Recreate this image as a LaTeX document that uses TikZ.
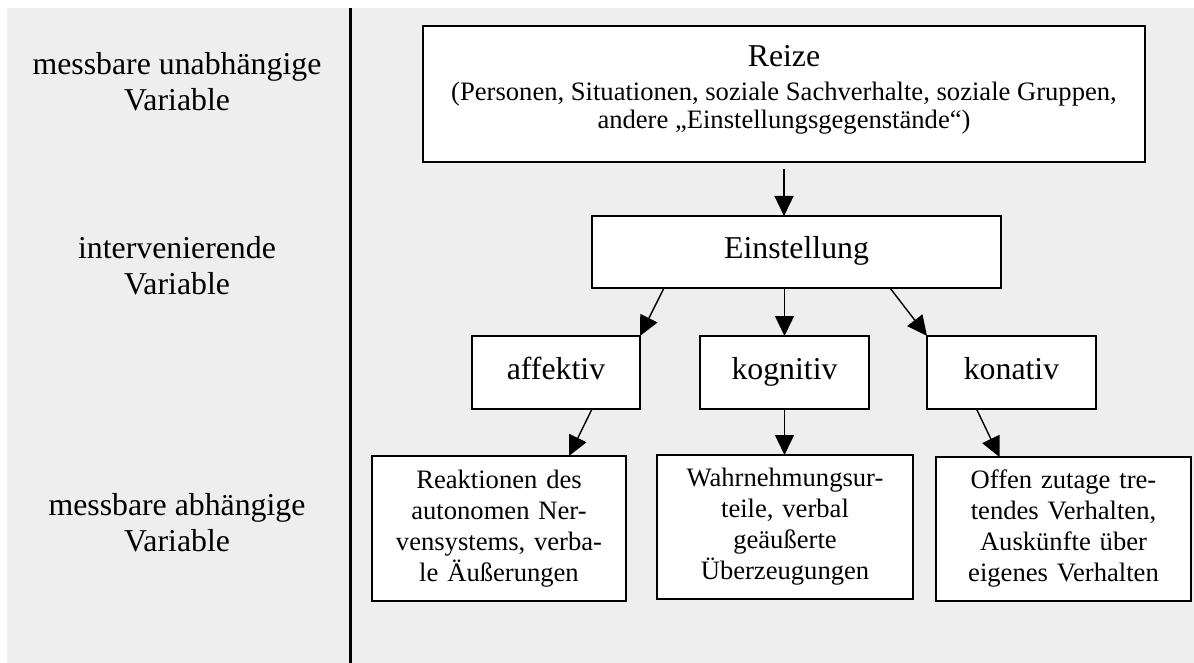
\documentclass[tikz,border=0pt]{standalone}
\usepackage{fontspec}
\setmainfont{Liberation Serif}
\usetikzlibrary{arrows.meta,positioning}
\definecolor{bggray}{RGB}{238,238,238}

\begin{document}
\begin{tikzpicture}[x=1pt, y=1pt]
    \tikzstyle{arrow} = [-{Triangle[length=20pt, width=19pt]}, line width=1.4pt]
    \tikzstyle{rec} = [rectangle, draw=black, line width=1.6pt, fill=white,
        align=center, inner sep=0pt, outer sep=0pt]
    \tikzstyle{bigtext} = [font=\fontsize{31.8}{36}\selectfont]
    \tikzstyle{smalltext} = [font=\fontsize{26.6}{31}\selectfont]
    \tikzstyle{oneline} = [text height=22pt, text depth=9pt]

    \useasboundingbox (0,0) rectangle (1194,-663);
    \fill[bggray] (7,-8) rectangle (1194,-663);
    \draw[line width=2.2pt] (350.5,-8) -- (350.5,-663);

    \node(unabh) [bigtext, align=center] at (177,-82)
        {messbare unabhängige\\ Variable};
    \node(interv) [bigtext, align=center] at (177,-266)
        {intervenierende\\ Variable};
    \node(abh) [bigtext, align=center] at (177,-523)
        {messbare abhängige\\ Variable};

    \node(reize) [rec, minimum width=722, minimum height=136]
        at (423,-26) [anchor=north west] {};
    \node(reizetext) [font=\fontsize{26.6}{28}\selectfont, align=center]
        at (784,-89.5)
        {{\fontsize{31.8}{28}\selectfont Reize}\\[6pt]
        (Personen, Situationen, soziale Sachverhalte, soziale Gruppen,\\
        andere „Einstellungsgegenstände“)};
    \node(einstellung) [rec, bigtext, oneline, minimum width=409,
        minimum height=72]
        at (592,-216) [anchor=north west]
        {Einstellung};
    \node(affektiv) [rec, bigtext, oneline, minimum width=168,
        minimum height=73]
        at (472,-336) [anchor=north west]
        {affektiv};
    \node(kognitiv) [rec, bigtext, oneline, minimum width=169,
        minimum height=73, right of=affektiv, node distance=228.5]
        {kognitiv};
    \node(konativ) [rec, bigtext, oneline, minimum width=169,
        minimum height=73, right of=kognitiv, node distance=227]
        {konativ};
    \node(reaktionen) [rec, smalltext, text width=240, minimum width=254,
        minimum height=145]
        at (372,-456) [anchor=north west]
        {Reaktionen des\\ autonomen Ner-\\ vensystems, verba-\\ le Äußerungen};
    \node(wahrnehmung) [rec, smalltext, text width=240, minimum width=256,
        minimum height=144]
        at (657,-455) [anchor=north west]
        {Wahrnehmungsur-\\ teile, verbal\\ geäußerte\\ Überzeugungen};
    \node(offen) [rec, smalltext, text width=240, minimum width=255,
        minimum height=144]
        at (936,-457) [anchor=north west]
        {Offen zutage tre-\\ tendes Verhalten,\\ Auskünfte über\\ eigenes Verhalten};

    \draw[arrow, shorten <=7pt] (reize.south) -- (reize.south |- einstellung.north);
    \draw[arrow] ([xshift=72pt]einstellung.south west) -- (affektiv.north east);
    \draw[arrow] (kognitiv.north |- einstellung.south) -- (kognitiv.north);
    \draw[arrow] ([xshift=-111pt]einstellung.south east) -- (konativ.north west);
    \draw[arrow] ([xshift=36pt]affektiv.south) -- ([xshift=70pt]reaktionen.north);
    \draw[arrow] (kognitiv.south) -- (kognitiv.south |- wahrnehmung.north);
    \draw[arrow] ([xshift=-35pt]konativ.south) -- ([xshift=-64pt]offen.north);
\end{tikzpicture}
\end{document}
